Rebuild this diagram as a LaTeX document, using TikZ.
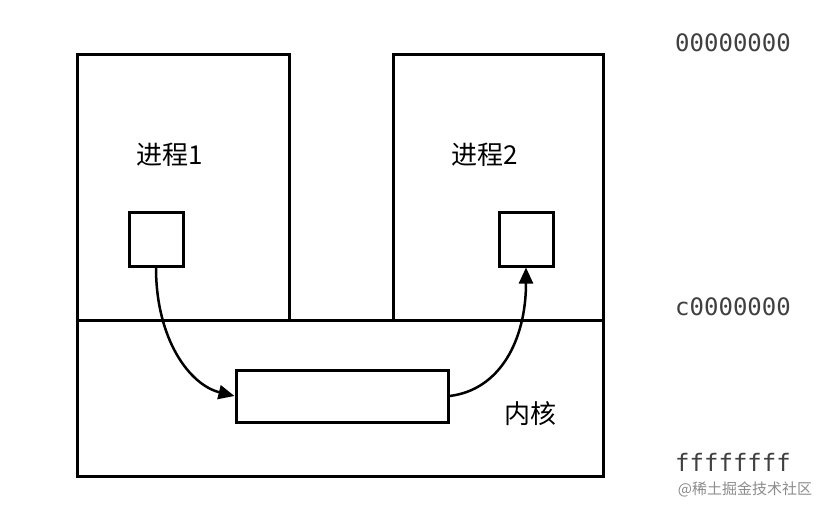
\documentclass[tikz,border=0pt]{standalone}
\usepackage{fontspec}
\newfontfamily\cjk{Noto Sans CJK SC}
\newfontfamily\mono{DejaVu Sans Mono}
\usetikzlibrary{arrows.meta}
\tikzset{box/.style={draw=black,line width=3pt},
 lbl/.style={font=\cjk\fontsize{26}{30}\selectfont},
 addr/.style={font=\mono\fontsize{24}{28}\selectfont,text=black!75},
 flow/.style={line width=2.5pt,-{Triangle[length=16pt,width=14pt]}}}
\begin{document}
\begin{tikzpicture}[x=1pt,y=-1pt]
\useasboundingbox[fill=white] (0,0) rectangle (836,514);
\draw[box] (77,54) rectangle (289,320);
\draw[box] (393,54) rectangle (603,320);
\draw[box] (77,320) rectangle (603,476);
\node[box,minimum width=54pt,minimum height=54pt,inner sep=0] (s1) at (156,239) {};
\node[box,minimum width=54pt,minimum height=54pt,inner sep=0] (s2) at (526,239) {};
\node[box,minimum width=212pt,minimum height=52pt,inner sep=0] (buf) at (342,396) {};
\node[lbl] (p1) at (170,155) {进程1};
\node[lbl] (p2) at (485,155) {进程2};
\node[lbl] (k) at (530,414) {内核};
\node[addr] (a0) at (733,43) {00000000};
\node[addr] (a1) at (733,307) {c0000000};
\node[addr] (a2) at (733,462) {ffffffff};
\node[font=\cjk\fontsize{15}{18}\selectfont,text=black!45] (wm) at (745,489) {@稀土掘金技术社区};
\draw[flow] (s1.south) .. controls (156,340) and (190,385) .. (buf.west);
\draw[flow] (buf.east) .. controls (500,390) and (526,340) .. (s2.south);
\end{tikzpicture}
\end{document}
